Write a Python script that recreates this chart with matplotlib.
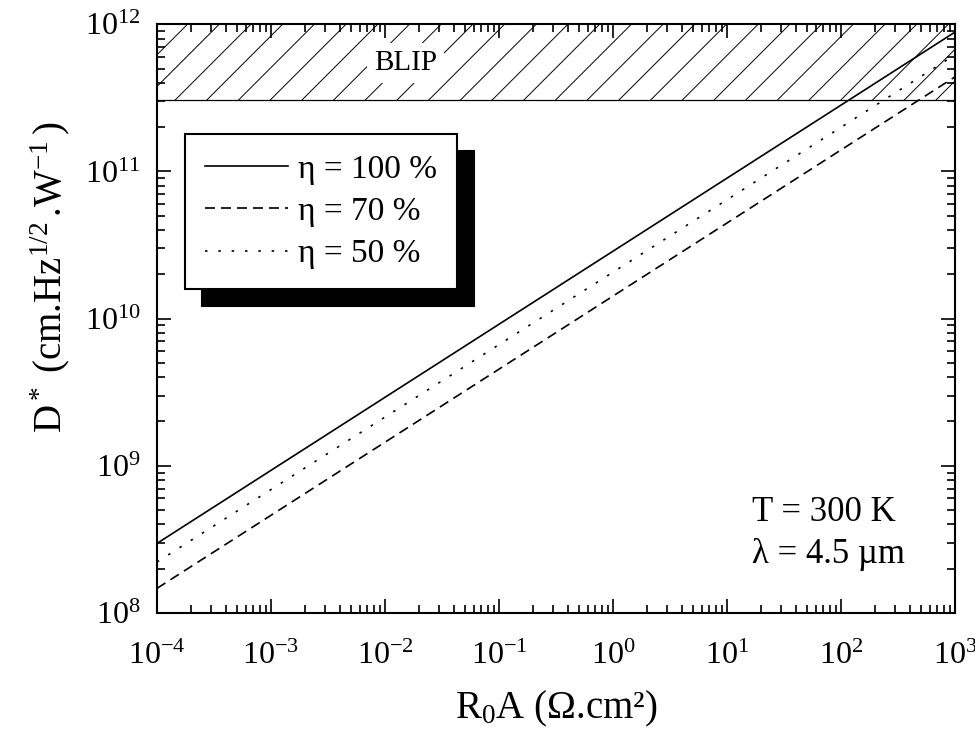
import numpy as np
import matplotlib
matplotlib.use("Agg")
import matplotlib.pyplot as plt
from matplotlib.ticker import LogLocator, NullFormatter

plt.rcParams['font.family'] = ['Liberation Serif', 'DejaVu Serif']
plt.rcParams['mathtext.fontset'] = 'custom'
plt.rcParams['mathtext.rm'] = 'Liberation Serif'
plt.rcParams['mathtext.it'] = 'Liberation Serif:italic'
plt.rcParams['mathtext.bf'] = 'Liberation Serif:bold'

# ---- data ----
r0a = [1e-4, 1e3]
d_eta100 = [2.97e8, 8.85e11]
d_eta70 = [1.47e8, 4.39e11]
d_eta50 = [2.22e8, 6.2e11]
labels = ["η = 100 %", "η = 70 %", "η = 50 %"]
blip_low = 3.05e11
xlim = [1e-4, 1e3]
ylim = [1e8, 1e12]

fig = plt.figure(figsize=(9.75, 7.35), dpi=100)
ax = fig.add_axes([0.161, 0.166, 0.8185, 0.801])
ax.set_xscale('log')
ax.set_yscale('log')
ax.set_xlim(xlim)
ax.set_ylim(ylim)

lw = 1.2
ax.plot(r0a, d_eta100, color='black', lw=lw, label=labels[0])
ax.plot(r0a, d_eta70, color='black', lw=lw, linestyle=(0, (6, 3.6)), label=labels[1])
ax.plot(r0a, d_eta50, color='black', lw=lw, linestyle=(0, (1.5, 6.5)), label=labels[2])

# BLIP region: border line and hatch lines (45 deg in pixel space)
ax.axhline(blip_low, color='black', lw=0.9)
fig.canvas.draw()
bb = ax.get_window_extent()
W, H = bb.width, bb.height
yb = (np.log10(blip_low) - np.log10(ylim[0])) / (np.log10(ylim[1]) - np.log10(ylim[0]))
hpx = (1 - yb) * H
dxf = hpx / W
spacing = 31.7 / W
start = 0.0226
k = -5
while True:
    x0 = start + k * spacing
    if x0 > 1:
        break
    ax.plot([x0, x0 + dxf], [yb, 1], transform=ax.transAxes, color='black', lw=0.7)
    k += 1

ax.text(10**-1.82, 10**11.74, "BLIP", fontsize=21, ha='center', va='center',
        bbox=dict(facecolor='white', edgecolor='none', pad=5), zorder=5)

# annotations
ax.text(10**1.22, 10**8.686, "T = 300 K", fontsize=25, ha='left', va='center')
ax.text(10**1.22, 10**8.40, "λ = 4.5 µm", fontsize=25, ha='left', va='center')

# ticks
ax.xaxis.set_major_locator(LogLocator(base=10, numticks=20))
ax.xaxis.set_minor_locator(LogLocator(base=10, subs=np.arange(2, 10), numticks=20))
ax.yaxis.set_major_locator(LogLocator(base=10, numticks=20))
ax.yaxis.set_minor_locator(LogLocator(base=10, subs=np.arange(2, 10), numticks=20))
ax.xaxis.set_minor_formatter(NullFormatter())
ax.yaxis.set_minor_formatter(NullFormatter())
ax.tick_params(which='both', direction='in', top=True, right=True, width=1.2)
ax.tick_params(which='major', length=10, labelsize=23)
ax.tick_params(which='minor', length=5.5)
ax.tick_params(axis='x', which='major', pad=21)
ax.tick_params(axis='y', which='major', pad=12)
for s in ax.spines.values():
    s.set_linewidth(1.5)

ax.set_xlabel(r"R$_0$A (Ω.cm²)", fontsize=28)
ax.xaxis.set_label_coords(0.5, -0.128)
ax.set_ylabel(r"D$^*$ (cm.Hz$^{1/2}\,$.W$^{-1}\,$)", fontsize=28)
ax.yaxis.set_label_coords(-0.107, 0.57)

leg = ax.legend(loc='upper left', bbox_to_anchor=(0.035, 0.813), borderaxespad=0,
                fontsize=24, handlelength=2.5, handletextpad=0.3, labelspacing=0.35,
                borderpad=0.6, fancybox=False, framealpha=1, edgecolor='black',
                shadow={'ox': 12, 'oy': -12, 'facecolor': 'black', 'edgecolor': 'black', 'alpha': 1})
leg.get_frame().set_linewidth(1.5)

fig.savefig("out.png", dpi=100)
